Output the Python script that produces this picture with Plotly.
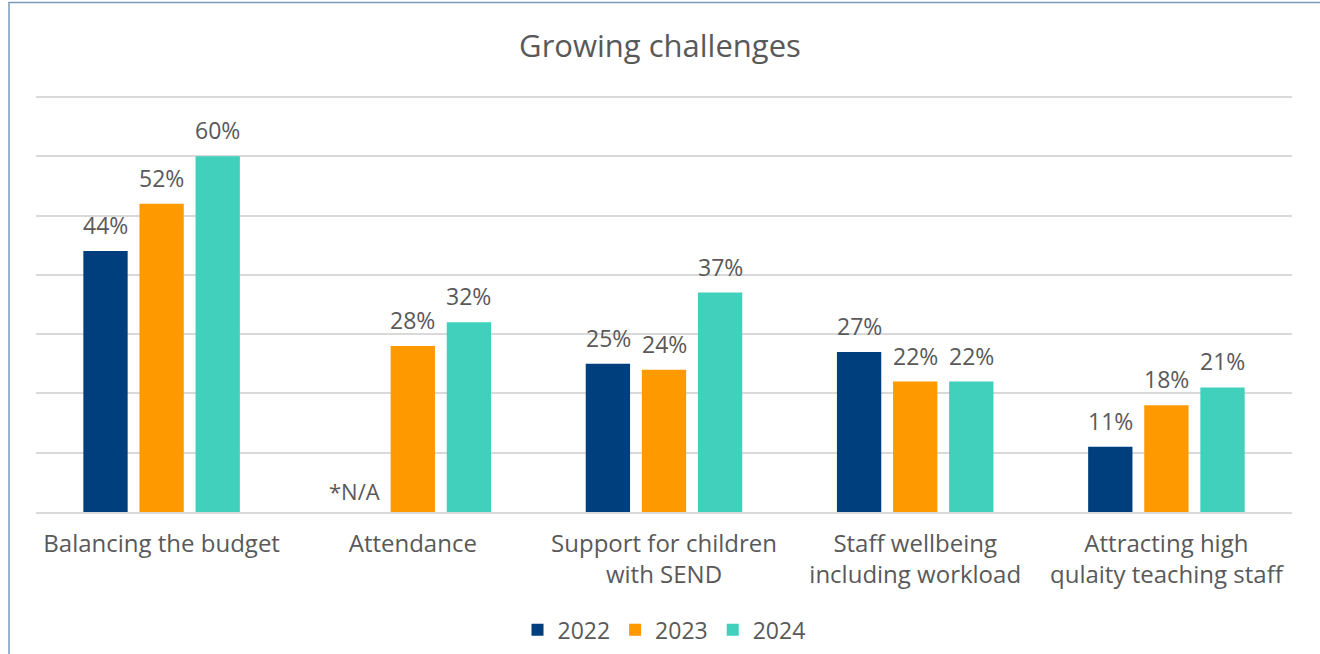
import plotly.graph_objects as go

categories = [
    "Balancing the budget",
    "Attendance",
    "Support for children<br>with SEND",
    "Staff wellbeing<br>including workload",
    "Attracting high<br>qulaity teaching staff",
]
years = ["2022", "2023", "2024"]
values_2022 = [44, None, 25, 27, 11]
values_2023 = [52, 28, 24, 22, 18]
values_2024 = [60, 32, 37, 22, 21]
colors = ["#003F7D", "#FF9900", "#40D0BC"]

FONT = "'Open Sans', 'Noto Sans', sans-serif"
GREY = "#595959"
SLOT = 56  # horizontal distance between neighbouring bars of a group, px

series = [values_2022, values_2023, values_2024]

fig = go.Figure()
for name, vals, col in zip(years, series, colors):
    fig.add_trace(go.Bar(
        name=name,
        x=categories,
        y=vals,
        marker=dict(color=col, line=dict(width=0)),
        cliponaxis=False,
    ))

# Value labels above each bar
for i, vals in enumerate(series):
    for cat, v in zip(categories, vals):
        fig.add_annotation(
            x=cat, y=v if v is not None else 0,
            text=f"{v}%" if v is not None else "*N/A",
            showarrow=False, xshift=(i - 1) * SLOT + (0 if v is not None else -2),
            yanchor="bottom", yshift=8 if v is not None else 4,
            font=dict(family=FONT, size=23 if v is not None else 22, color=GREY),
        )

# Chart border
fig.add_shape(
    type="rect", xref="paper", yref="paper",
    x0=-0.0215, x1=1.05, y0=-0.5, y1=1.21, layer="below",
    line=dict(color="#7A9CB8", width=1.5), fillcolor="rgba(0,0,0,0)",
)

fig.update_layout(
    width=1320, height=654,
    margin=dict(l=36, r=28, t=91, b=142, autoexpand=False),
    paper_bgcolor="white", plot_bgcolor="white",
    title=dict(text="Growing challenges", x=0.5, xanchor="center", y=0.93, yanchor="middle",
               font=dict(family=FONT, size=31, color=GREY)),
    barmode="group", bargap=0.33, bargroupgap=0.21,
    showlegend=True,
    legend=dict(orientation="h", x=0.5, xanchor="center", y=-0.28, yanchor="middle",
                font=dict(family=FONT, size=23, color=GREY), itemwidth=30,
                traceorder="normal"),
    xaxis=dict(showline=True, linecolor="#D9D9D9", linewidth=1.5, ticks="",
               automargin=False, ticklabelstandoff=9,
               tickfont=dict(family=FONT, size=24, color=GREY)),
    yaxis=dict(range=[0, 71], dtick=10, showticklabels=False, gridcolor="#D9D9D9",
               gridwidth=1.5, zeroline=False, showline=False, automargin=False),
)

fig.write_html("out.html")
